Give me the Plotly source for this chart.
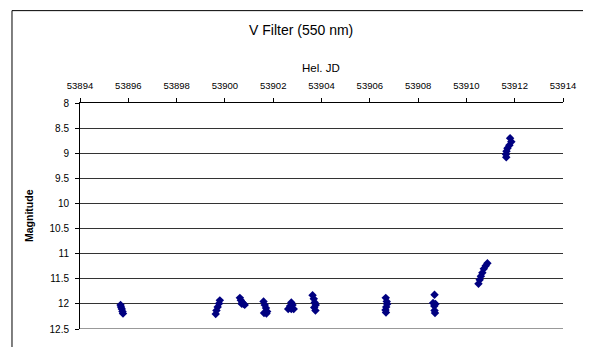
import plotly.graph_objects as go

# Heliocentric JD and V magnitude
hel_jd = [
    53895.68, 53895.70, 53895.73, 53895.76, 53895.78,
    53899.62, 53899.65, 53899.70, 53899.76, 53899.79,
    53900.62, 53900.66, 53900.72, 53900.78, 53900.82, 53900.70,
    53901.60, 53901.65, 53901.70, 53901.75, 53901.62, 53901.72,
    53902.62, 53902.70, 53902.75, 53902.80, 53902.85, 53902.75,
    53903.63, 53903.68, 53903.72, 53903.76, 53903.70, 53903.75,
    53906.66, 53906.70, 53906.72, 53906.68, 53906.65, 53906.67,
    53908.68, 53908.62, 53908.72, 53908.67, 53908.68, 53908.70,
    53910.50, 53910.55, 53910.60, 53910.66, 53910.72, 53910.80, 53910.87,
    53911.81, 53911.86, 53911.78, 53911.70, 53911.66, 53911.64, 53911.65,
]
magnitude = [
    12.02, 12.06, 12.10, 12.15, 12.19,
    12.20, 12.13, 12.06, 11.99, 11.93,
    11.88, 11.93, 11.97, 12.00, 12.02, 12.00,
    11.95, 12.02, 12.08, 12.15, 12.18, 12.19,
    12.10, 12.04, 11.97, 12.02, 12.10, 12.10,
    11.83, 11.90, 11.97, 12.02, 12.07, 12.13,
    11.88, 11.95, 12.00, 12.06, 12.12, 12.17,
    11.82, 11.98, 12.00, 12.04, 12.13, 12.18,
    11.60, 11.52, 11.45, 11.38, 11.30, 11.24, 11.19,
    8.70, 8.77, 8.84, 8.90, 8.96, 9.02, 9.08,
]

title_text = "V Filter (550 nm)"
x_title = "Hel. JD"
y_title = "<b>Magnitude</b>"

font_family = "Liberation Sans, Arial, sans-serif"

fig = go.Figure()
fig.add_trace(go.Scatter(
    x=hel_jd, y=magnitude, mode="markers",
    marker=dict(symbol="diamond", size=6.5, color="#000080",
                line=dict(width=0)),
    showlegend=False,
))

# page body has an 8px margin, so the figure is drawn 8px smaller
fig.update_layout(
    width=583, height=339,
    margin=dict(l=72, r=28, t=95, b=14),
    paper_bgcolor="white", plot_bgcolor="white",
    font=dict(family=font_family, size=10, color="black"),
    xaxis=dict(
        side="top", range=[53894, 53914], dtick=2, tick0=53894,
        tickformat="d", showgrid=False, zeroline=False,
        showline=True, linecolor="black", linewidth=1,
        ticks="outside", ticklen=4, tickcolor="black",
        tickfont=dict(size=9.5), ticklabelstandoff=5,
    ),
    yaxis=dict(
        range=[12.5, 8], dtick=0.5, tick0=8,
        showgrid=True, gridcolor="#333333", gridwidth=1,
        zeroline=False, showline=True, linecolor="black", linewidth=1,
        ticks="outside", ticklen=4, tickcolor="black",
        tickfont=dict(size=10), ticklabelstandoff=4,
    ),
    shapes=[
        dict(type="rect", xref="paper", yref="paper",
             x0=-0.1408, x1=1.0518, y0=-0.09, y1=1.4087,
             line=dict(color="black", width=1), layer="below"),
        dict(type="line", xref="paper", yref="y",
             x0=0, x1=1, y0=12.5, y1=12.5,
             line=dict(color="#333333", width=1)),
    ],
    annotations=[
        dict(text=title_text, xref="paper", yref="paper",
             x=(301 - 80) / 483, y=(333 - 29) / 230,
             xanchor="center", yanchor="middle", showarrow=False,
             font=dict(size=14)),
        dict(text=x_title, xref="paper", yref="paper",
             x=(321 - 80) / 483, y=(333 - 67) / 230,
             xanchor="center", yanchor="middle", showarrow=False,
             font=dict(size=11.5)),
        dict(text=y_title, xref="paper", yref="paper",
             x=(29 - 80) / 483, y=(333 - 218) / 230,
             xanchor="center", yanchor="middle", showarrow=False,
             textangle=-90, font=dict(size=10.5)),
    ],
)

fig.write_html("out.html")
